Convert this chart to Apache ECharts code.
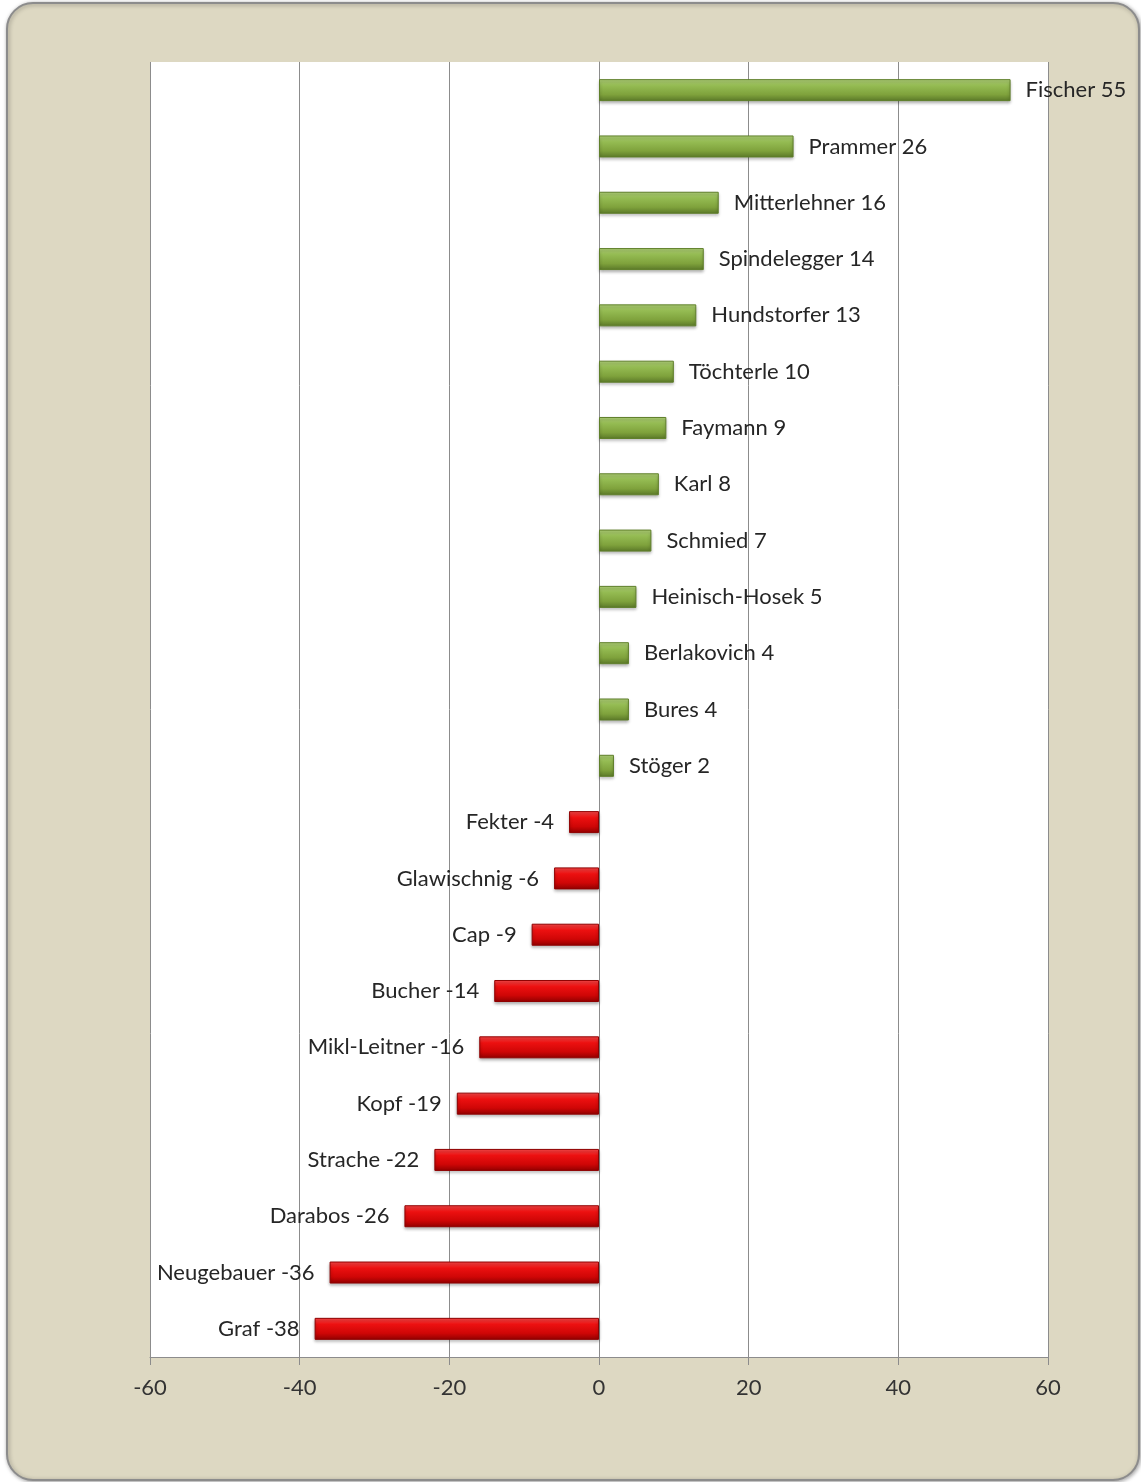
<!DOCTYPE html>
<html>
<head>
<meta charset="utf-8">
<script src="https://cdn.jsdelivr.net/npm/echarts@6/dist/echarts.min.js"></script>
<style>
  html, body { margin: 0; padding: 0; background: #fff; }
  #chart { width: 1141px; height: 1482px; }
</style>
</head>
<body>
<div id="chart"></div>
<script>
// Namen von oben nach unten
var names = ['Fischer', 'Prammer', 'Mitterlehner', 'Spindelegger', 'Hundstorfer', 'Töchterle',
  'Faymann', 'Karl', 'Schmied', 'Heinisch-Hosek', 'Berlakovich', 'Bures', 'Stöger',
  'Fekter', 'Glawischnig', 'Cap', 'Bucher', 'Mikl-Leitner', 'Kopf', 'Strache',
  'Darabos', 'Neugebauer', 'Graf'];
var values = [55, 26, 16, 14, 13, 10, 9, 8, 7, 5, 4, 4, 2,
  -4, -6, -9, -14, -16, -19, -22, -26, -36, -38];
var xTicks = [-60, -40, -20, 0, 20, 40, 60];

var green = new echarts.graphic.LinearGradient(0, 0, 0, 1, [
  {offset: 0, color: '#b3d47a'},
  {offset: 0.3, color: '#94bb52'},
  {offset: 0.7, color: '#7fa23c'},
  {offset: 1, color: '#5a7828'}
]);
var red = new echarts.graphic.LinearGradient(0, 0, 0, 1, [
  {offset: 0, color: '#ff4a4a'},
  {offset: 0.3, color: '#ec1010'},
  {offset: 0.7, color: '#cf0606'},
  {offset: 1, color: '#900000'}
]);

var barData = values.map(function (v) {
  return {
    value: v,
    itemStyle: {
      color: v >= 0 ? green : red,
      borderColor: v >= 0 ? '#5f7f2a' : '#8f0000',
      borderWidth: 1
    },
    label: {
      position: v >= 0 ? 'right' : 'left'
    }
  };
});

var chart = echarts.init(document.getElementById('chart'));
chart.setOption({
  animation: false,
  textStyle: { fontFamily: 'Lato, "Open Sans", sans-serif' },
  graphic: [{
    type: 'rect',
    z: -10,
    shape: { x: 7, y: 3, width: 1132, height: 1477, r: 26 },
    style: {
      fill: '#ddd8c2',
      stroke: '#8c8c8c',
      lineWidth: 2,
      shadowBlur: 4,
      shadowColor: 'rgba(0,0,0,0.35)',
      shadowOffsetX: 1,
      shadowOffsetY: 1
    }
  }],
  grid: {
    left: 150, right: 93, top: 62, bottom: 125,
    show: true,
    backgroundColor: '#ffffff',
    borderWidth: 0
  },
  xAxis: {
    type: 'value',
    min: xTicks[0],
    max: xTicks[xTicks.length - 1],
    interval: 20,
    axisLine: { show: true, lineStyle: { color: '#8c8c8c' } },
    axisTick: { show: true, length: 8, lineStyle: { color: '#8c8c8c' } },
    axisLabel: { fontSize: 22, color: '#333', margin: 20 },
    splitLine: { show: true, lineStyle: { color: '#8c8c8c', width: 1 } }
  },
  yAxis: {
    type: 'category',
    inverse: true,
    data: names,
    axisLine: { show: true, onZero: true, lineStyle: { color: '#8c8c8c' } },
    axisTick: { show: false },
    axisLabel: { show: false },
    splitLine: { show: false }
  },
  series: [{
    type: 'bar',
    data: barData,
    barWidth: 22,
    itemStyle: {
      shadowBlur: 3,
      shadowOffsetY: 2,
      shadowColor: 'rgba(0,0,0,0.3)'
    },
    label: {
      show: true,
      distance: 15,
      fontSize: 22,
      color: '#262626',
      formatter: '{b} {c}'
    }
  }]
});
</script>
</body>
</html>
